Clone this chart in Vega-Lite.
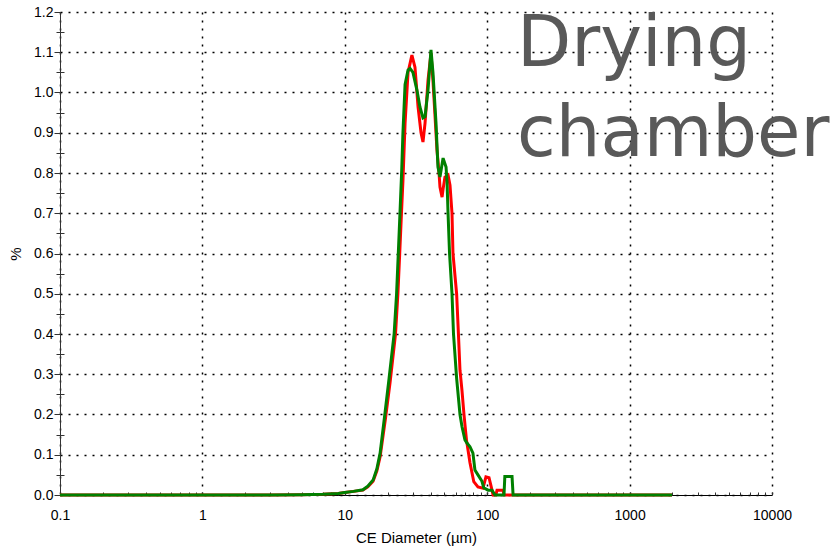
{
  "$schema": "https://vega.github.io/schema/vega-lite/v6.json",
  "width": 712,
  "height": 483,
  "autosize": {"type": "none"},
  "padding": {"left": 60, "top": 12, "right": 67, "bottom": 55},
  "background": "white",
  "title": {
    "text": ["Drying", "chamber"],
    "anchor": "start",
    "frame": "group",
    "dx": 457,
    "offset": -165,
    "baseline": "top",
    "fontSize": 70.5,
    "lineHeight": 90,
    "font": "DejaVu Sans",
    "fontWeight": "normal",
    "color": "#595959"
  },
  "config": {
    "font": "Liberation Sans",
    "view": {"stroke": null}
  },
  "datasets": {
    "red": [
      {"d": 0.1, "p": 0}, {"d": 1, "p": 0}, {"d": 3, "p": 0}, {"d": 5, "p": 0.0007},
      {"d": 7, "p": 0.002}, {"d": 9, "p": 0.004}, {"d": 10, "p": 0.006}, {"d": 11.5, "p": 0.009},
      {"d": 13.4, "p": 0.012}, {"d": 14.5, "p": 0.02}, {"d": 15.8, "p": 0.034}, {"d": 16.8, "p": 0.06},
      {"d": 17.7, "p": 0.095}, {"d": 19.3, "p": 0.19}, {"d": 20.8, "p": 0.28}, {"d": 22.7, "p": 0.4},
      {"d": 23.6, "p": 0.5}, {"d": 24.3, "p": 0.6}, {"d": 25.0, "p": 0.7}, {"d": 25.6, "p": 0.78},
      {"d": 26.5, "p": 0.924}, {"d": 27.8, "p": 1.05}, {"d": 29.6, "p": 1.093}, {"d": 31.1, "p": 1.063},
      {"d": 32.7, "p": 0.964}, {"d": 34.3, "p": 0.9}, {"d": 35.4, "p": 0.877}, {"d": 36.6, "p": 0.924},
      {"d": 38.4, "p": 1.03}, {"d": 40.3, "p": 1.098}, {"d": 41.6, "p": 1.03}, {"d": 44.4, "p": 0.857},
      {"d": 45.9, "p": 0.8}, {"d": 46.6, "p": 0.765}, {"d": 48.2, "p": 0.74}, {"d": 49.0, "p": 0.76},
      {"d": 50.5, "p": 0.79}, {"d": 53.1, "p": 0.795}, {"d": 54.8, "p": 0.77}, {"d": 56.6, "p": 0.7},
      {"d": 57.5, "p": 0.6}, {"d": 61.0, "p": 0.5}, {"d": 62.8, "p": 0.4}, {"d": 64.4, "p": 0.31},
      {"d": 66.5, "p": 0.26}, {"d": 68.7, "p": 0.2}, {"d": 71.5, "p": 0.137}, {"d": 75.7, "p": 0.08},
      {"d": 80.5, "p": 0.033}, {"d": 86.1, "p": 0.02}, {"d": 93.4, "p": 0.017}, {"d": 98, "p": 0.045},
      {"d": 103, "p": 0.043}, {"d": 108.1, "p": 0.012}, {"d": 109.9, "p": 0}, {"d": 115, "p": 0},
      {"d": 117.2, "p": 0.012}, {"d": 129.2, "p": 0.012}, {"d": 131.2, "p": 0}, {"d": 1986, "p": 0}
    ],
    "green": [
      {"d": 0.1, "p": 0}, {"d": 1, "p": 0}, {"d": 3, "p": 0}, {"d": 5, "p": 0.0007},
      {"d": 7, "p": 0.002}, {"d": 9, "p": 0.004}, {"d": 10, "p": 0.006}, {"d": 11.5, "p": 0.009},
      {"d": 13.4, "p": 0.013}, {"d": 14.5, "p": 0.022}, {"d": 15.8, "p": 0.037}, {"d": 16.8, "p": 0.065},
      {"d": 17.7, "p": 0.104}, {"d": 19.1, "p": 0.2}, {"d": 20.4, "p": 0.286}, {"d": 22.2, "p": 0.4},
      {"d": 23.1, "p": 0.5}, {"d": 23.75, "p": 0.6}, {"d": 24.4, "p": 0.7}, {"d": 25.1, "p": 0.807},
      {"d": 25.6, "p": 0.9}, {"d": 26.5, "p": 1.02}, {"d": 27.8, "p": 1.056}, {"d": 28.7, "p": 1.06},
      {"d": 30.1, "p": 1.05}, {"d": 32.1, "p": 1.006}, {"d": 33.7, "p": 0.964}, {"d": 35.4, "p": 0.937},
      {"d": 36.6, "p": 0.94}, {"d": 38.4, "p": 1.006}, {"d": 40.3, "p": 1.106}, {"d": 41.6, "p": 1.05},
      {"d": 43.7, "p": 0.924}, {"d": 45.1, "p": 0.815}, {"d": 46.6, "p": 0.79}, {"d": 49.0, "p": 0.837},
      {"d": 51.4, "p": 0.815}, {"d": 52.2, "p": 0.78}, {"d": 53.1, "p": 0.7}, {"d": 54.4, "p": 0.6},
      {"d": 56.6, "p": 0.5}, {"d": 58.0, "p": 0.4}, {"d": 61.0, "p": 0.29}, {"d": 64.4, "p": 0.2},
      {"d": 66.5, "p": 0.17}, {"d": 69.8, "p": 0.137}, {"d": 72.1, "p": 0.129}, {"d": 75.7, "p": 0.12},
      {"d": 79.4, "p": 0.104}, {"d": 82.0, "p": 0.062}, {"d": 86.1, "p": 0.05}, {"d": 91.9, "p": 0.034},
      {"d": 94.5, "p": 0.018}, {"d": 101.4, "p": 0.012}, {"d": 108.1, "p": 0.012}, {"d": 113.5, "p": 0},
      {"d": 131.2, "p": 0}, {"d": 133, "p": 0.046}, {"d": 149.4, "p": 0.046}, {"d": 152, "p": 0},
      {"d": 1986, "p": 0}
    ]
  },
  "layer": [
    {
      "data": {"name": "red"},
      "mark": {"type": "line", "color": "#ff0000", "strokeWidth": 3},
      "encoding": {
        "x": {
          "field": "d", "type": "quantitative",
          "scale": {"type": "log", "domain": [0.1, 10000], "nice": false},
          "axis": {
            "title": "CE Diameter (µm)",
            "values": [0.1, 1, 10, 100, 1000, 10000],
            "format": "~g",
            "grid": true, "gridDash": [2, 6], "gridColor": "#000", "gridWidth": 1.5, "gridOpacity": 1,
            "ticks": false,
            "domainColor": "#000", "domainWidth": 1,
            "labelPadding": 13, "labelFontSize": 14, "labelColor": "#000",
            "labelFlush": false, "labelOverlap": false,
            "titleFontSize": 15, "titleFontWeight": "normal", "titleColor": "#000", "titlePadding": 8
          }
        },
        "y": {
          "field": "p", "type": "quantitative",
          "scale": {"domain": [0, 1.2], "nice": false},
          "axis": {
            "title": "%",
            "values": [0, 0.1, 0.2, 0.3, 0.4, 0.5, 0.6, 0.7, 0.8, 0.9, 1.0, 1.1, 1.2],
            "format": ".1f",
            "grid": true, "gridDash": [2, 6], "gridColor": "#000", "gridWidth": 1.5, "gridOpacity": 1,
            "ticks": true, "tickSize": 6, "tickColor": "#333",
            "domainColor": "#333", "domainWidth": 1,
            "labelPadding": 1, "labelFontSize": 14, "labelColor": "#000",
            "labelFlush": false, "labelOverlap": false,
            "titleFontSize": 15, "titleFontWeight": "normal", "titleColor": "#000", "titlePadding": 10
          }
        }
      }
    },
    {
      "data": {"name": "green"},
      "mark": {"type": "line", "color": "#008000", "strokeWidth": 3},
      "encoding": {
        "x": {
          "field": "d", "type": "quantitative",
          "axis": {
            "orient": "bottom", "title": null, "labels": false, "domain": false, "grid": false,
            "ticks": true, "tickSize": 3, "offset": -3, "tickColor": "#333",
            "values": [0.2, 0.3, 0.4, 0.5, 0.6, 0.7, 0.8, 0.9, 1, 2, 3, 4, 5, 6, 7, 8, 9, 10, 20, 30, 40, 50, 60, 70, 80, 90, 100, 200, 300, 400, 500, 600, 700, 800, 900, 1000, 2000, 3000, 4000, 5000, 6000, 7000, 8000, 9000, 10000]
          }
        },
        "y": {
          "field": "p", "type": "quantitative",
          "axis": {
            "orient": "left", "title": null, "labels": false, "domain": false, "grid": false,
            "ticks": true, "tickSize": 8, "offset": -4, "tickColor": "#333",
            "values": [0.05, 0.15, 0.25, 0.35, 0.45, 0.55, 0.65, 0.75, 0.85, 0.95, 1.05, 1.15]
          }
        }
      }
    }
  ],
  "resolve": {"axis": {"x": "independent", "y": "independent"}}
}
